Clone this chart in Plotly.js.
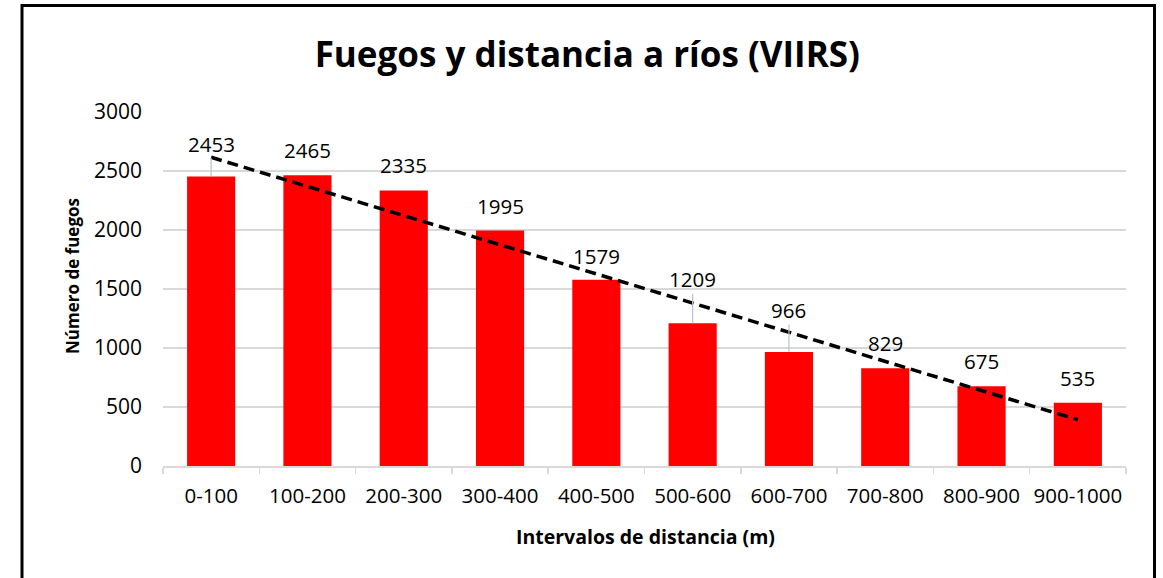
<!DOCTYPE html>
<html>
<head>
<meta charset="utf-8">
<script src="https://cdn.plot.ly/plotly-3.0.1.min.js"></script>
<style>
  html, body { margin: 0; padding: 0; background: #fff; }
  #chart { width: 1163px; height: 578px; }
</style>
</head>
<body>
<div id="chart"></div>
<script>
// ---- Data ----
const categories = ['0-100', '100-200', '200-300', '300-400', '400-500',
                    '500-600', '600-700', '700-800', '800-900', '900-1000'];
const fires = [2453, 2465, 2335, 1995, 1579, 1209, 966, 829, 675, 535];
const yTickValues = [0, 500, 1000, 1500, 2000, 2500, 3000];
const chartTitle = 'Fuegos y distancia a ríos (VIIRS)';
const xTitle = 'Intervalos de distancia (m)';
const yTitle = 'Número de fuegos';

// ---- Label placement (styling, px) ----
const labelOffsets = [33, 25, 25, 25, 24, 44, 42, 25, 25, 25];
const labelLeaders = [true, false, false, false, false, true, true, false, false, false];

// ---- Linear trendline (least squares, as Excel computes it) ----
const n = fires.length;
const xs = fires.map((_, i) => i + 1);
const mx = xs.reduce((a, b) => a + b, 0) / n;
const my = fires.reduce((a, b) => a + b, 0) / n;
let sxy = 0, sxx = 0;
for (let i = 0; i < n; i++) { sxy += (xs[i] - mx) * (fires[i] - my); sxx += (xs[i] - mx) ** 2; }
const slope = sxy / sxx;
const intercept = my - slope * mx;
const trend = xs.map(x => intercept + slope * x);

const FONT = "'Open Sans', sans-serif";
const W = 1163, H = 578;
const M = { l: 163, r: 37, t: 112, b: 112 };
const pw = W - M.l - M.r, ph = H - M.t - M.b;
const px = x => (x - M.l) / pw;
const py = y => (H - M.b - y) / ph;

const bars = {
  type: 'bar', x: categories, y: fires,
  marker: { color: '#ff0000', line: { width: 0 } },
  hoverinfo: 'skip', showlegend: false
};
const trendTrace = {
  type: 'scatter', mode: 'lines', x: categories, y: trend,
  line: { color: '#000000', width: 3.5, dash: '11px,6px' },
  hoverinfo: 'skip', showlegend: false
};

const annotations = categories.map((c, i) => ({
  x: c, y: fires[i], xref: 'x', yref: 'y',
  text: String(fires[i]),
  showarrow: true, arrowhead: 0, arrowwidth: 1.2,
  arrowcolor: labelLeaders[i] ? '#b4c2d4' : 'rgba(0,0,0,0)',
  ax: 0, ay: -labelOffsets[i], standoff: 0, borderpad: 0,
  font: { family: FONT, size: 20.5, color: '#000' }
}));
// axis titles (placed as Excel places them)
annotations.push({
  xref: 'paper', yref: 'paper', x: px(645.5), y: py(536),
  xanchor: 'center', yanchor: 'middle', showarrow: false,
  text: '<b>' + xTitle + '</b>',
  font: { family: FONT, size: 19.5, color: '#000' }
});
annotations.push({
  xref: 'paper', yref: 'paper', x: px(72), y: py(276),
  xanchor: 'center', yanchor: 'middle', showarrow: false, textangle: -90,
  text: '<b>' + yTitle + '</b>',
  font: { family: FONT, size: 17, color: '#000' }
});

const layout = {
  width: W, height: H,
  margin: M,
  paper_bgcolor: '#ffffff', plot_bgcolor: '#ffffff',
  bargap: 0.5,
  title: {
    text: '<b>' + chartTitle + '</b>',
    font: { family: FONT, size: 35, color: '#000' },
    xref: 'container', x: 0.505, xanchor: 'center',
    yref: 'container', y: 1 - 55 / H, yanchor: 'middle'
  },
  xaxis: {
    type: 'category',
    showline: true, linecolor: '#d9d9d9', linewidth: 1.5,
    ticks: 'outside', tickson: 'boundaries', ticklen: 6, tickcolor: '#d9d9d9', tickwidth: 1.5,
    showgrid: false,
    tickangle: 0,
    ticklabelstandoff: 11,
    tickfont: { family: FONT, size: 20.5, color: '#000' }
  },
  yaxis: {
    range: [0, 3000], tickvals: yTickValues, ticktext: yTickValues.map(String),
    showgrid: true, gridcolor: '#d9d9d9', gridwidth: 1.5,
    zeroline: false, showline: false, ticks: '',
    ticklabelstandoff: 20,
    tickfont: { family: FONT, size: 21, color: '#000' }
  },
  annotations: annotations,
  shapes: [{
    type: 'rect', xref: 'paper', yref: 'paper',
    x0: px(22), x1: px(1154.5), y0: py(H + 20), y1: py(5.5),
    line: { color: '#000000', width: 3 }, fillcolor: 'rgba(0,0,0,0)', layer: 'above'
  }]
};

Plotly.newPlot('chart', [bars, trendTrace], layout, { staticPlot: true, displayModeBar: false });
</script>
</body>
</html>
